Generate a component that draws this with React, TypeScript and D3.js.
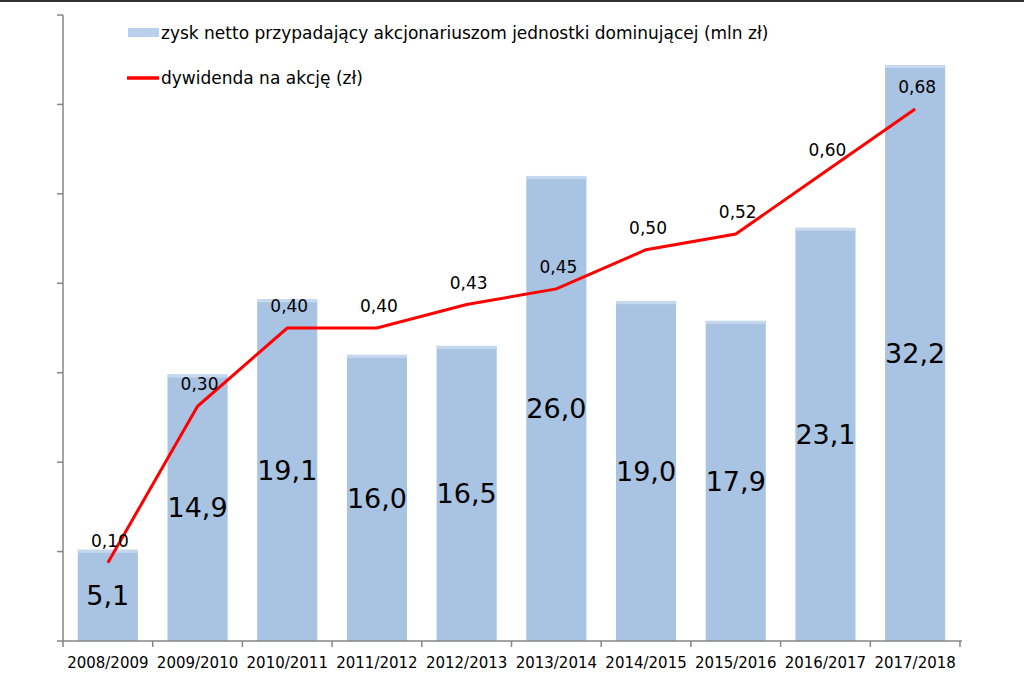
import React from "react";
import * as d3 from "d3";

const categories = ["2008/2009","2009/2010","2010/2011","2011/2012","2012/2013","2013/2014","2014/2015","2015/2016","2016/2017","2017/2018"];
const profit = [5.1,14.9,19.1,16.0,16.5,26.0,19.0,17.9,23.1,32.2];
const dividend = [0.10,0.30,0.40,0.40,0.43,0.45,0.50,0.52,0.60,0.68];
const leftTicks = [0,5,10,15,20,25,30,35];
const legendBar = "zysk netto przypadający akcjonariuszom jednostki dominującej (mln zł)";
const legendLine = "dywidenda na akcję (zł)";

const W = 1024, H = 683;
const left = 63, right = 960, top = 15, bottom = 641;
const FONT = "Tahoma, 'DejaVu Sans', Verdana, sans-serif";
const fmt = (v: number, d: number) => v.toFixed(d).replace(".", ",");

export default function App() {
  const x = d3.scaleBand<string>().domain(categories).range([left, right]).paddingInner(0.33).paddingOuter(0.165);
  const xb = d3.scaleBand<string>().domain(categories).range([left, right]);
  const y = d3.scaleLinear().domain([0, 35]).range([bottom, top]);
  const y2 = d3.scaleLinear().domain([0, 0.8]).range([bottom, top]);
  const line = d3.line<number>().x((_, i) => xb(categories[i])! + xb.bandwidth() / 2).y(d => y2(d));
  const axisColor = "#868686";
  return (
    <div style={{ position: "absolute", left: 0, top: 0 }}>
      <svg width={W} height={H} style={{ display: "block", background: "#fff" }} fontFamily={FONT}>
        <rect x={0} y={0} width={W} height={2} fill="#333" />
        {profit.map((v, i) => {
          const bx = x(categories[i])!;
          const by = y(v);
          return (
            <g key={i}>
              <rect x={bx} y={by} width={x.bandwidth()} height={bottom - by} fill="#A9C3E3" />
              <rect x={bx} y={by} width={x.bandwidth()} height={3} fill="#C6D8EE" />
              <text x={bx + x.bandwidth() / 2} y={(by + bottom) / 2} dy="0.36em" textAnchor="middle" fontSize={27} fill="#000">{fmt(v, 1)}</text>
            </g>
          );
        })}
        <line x1={left} x2={left} y1={top} y2={bottom} stroke={axisColor} strokeWidth={1.5} />
        {leftTicks.map(t => (
          <line key={t} x1={left - 6} x2={left} y1={y(t)} y2={y(t)} stroke={axisColor} strokeWidth={1.5} />
        ))}
        <line x1={left} x2={right + 2} y1={bottom} y2={bottom} stroke={axisColor} strokeWidth={1.5} />
        {[...categories.map(c => xb(c)!), right].map((tx, i) => (
          <line key={i} x1={tx} x2={tx} y1={bottom} y2={bottom + 6} stroke={axisColor} strokeWidth={1.5} />
        ))}
        {categories.map(c => (
          <text key={c} x={xb(c)! + xb.bandwidth() / 2} y={668} textAnchor="middle" fontSize={15} fill="#000">{c}</text>
        ))}
        <path d={line(dividend)!} fill="none" stroke="#FF0000" strokeWidth={3} />
        {dividend.map((v, i) => (
          <text key={i} x={xb(categories[i])! + xb.bandwidth() / 2 + 2} y={y2(v) - 22} dy="0.36em" textAnchor="middle" fontSize={17} fill="#000">{fmt(v, 2)}</text>
        ))}
        <rect x={128} y={28} width={31} height={9} fill="#B9D1EE" />
        <text x={161} y={39} fontSize={17} fill="#000">{legendBar}</text>
        <line x1={127} x2={159} y1={78} y2={78} stroke="#FF0000" strokeWidth={3.5} />
        <text x={161} y={84} fontSize={17} fill="#000">{legendLine}</text>
      </svg>
    </div>
  );
}
